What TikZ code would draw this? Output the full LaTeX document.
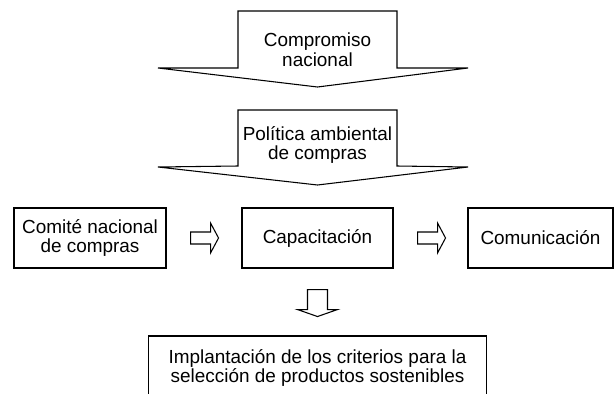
\documentclass[tikz,border=0pt]{standalone}
\usepackage{fontspec}
\setmainfont{Liberation Sans}
\usetikzlibrary{calc}

\begin{document}
\begin{tikzpicture}[x=0.75pt,y=-0.75pt,line width=0.8pt]
  \tikzstyle{txt}=[align=center,inner sep=0pt,font=\fontsize{14.2}{14.8}\selectfont]
  \tikzstyle{box}=[txt,draw,minimum height=45pt]
  \useasboundingbox (0,0) rectangle (614,393);

  % big block arrows
  \draw (238,11) -- (397,11) -- (397,68) -- (468,68) -- (317.5,87) -- (158,68) -- (238,68) -- cycle;
  \node[txt] (compromiso) at (317.5,50) {Compromiso\\nacional};
  \draw (238,110) -- (397,110) -- (397,166) -- (468,167) -- (317.5,185) -- (158,167) -- (238,166) -- cycle;
  \node[txt] (politica) at (317.5,145) {Política ambiental\\de compras};

  % row of boxes
  \node[box,minimum width=114pt] (comite) at (90,238) {Comité nacional\\de compras};
  \node[box,minimum width=113.25pt] (capacitacion) at (317.5,238) {Capacitación};
  \node[box,minimum width=108.75pt] (comunicacion) at (540.5,238) {Comunicación};
  \node[box,minimum width=253.5pt,minimum height=48pt] (implantacion) at (317.5,368)
    {Implantación de los criterios para la\\selección de productos sostenibles};

  % small hollow arrows
  \draw ($(comite.east)+(24,-6)$) -- ++(20,0) -- ++(0,-9) -- ++(8,15) -- ++(-8,15) -- ++(0,-9) -- ++(-20,0) -- cycle;
  \draw ($(capacitacion.east)+(24,-6)$) -- ++(20,0) -- ++(0,-9) -- ++(8,15) -- ++(-8,15) -- ++(0,-9) -- ++(-20,0) -- cycle;
  \draw ($(capacitacion.south)+(-10,21)$) -- ++(20,0) -- ++(0,20) -- ++(10,0) -- ++(-20,7) -- ++(-20,-7) -- ++(10,0) -- cycle;
\end{tikzpicture}
\end{document}
